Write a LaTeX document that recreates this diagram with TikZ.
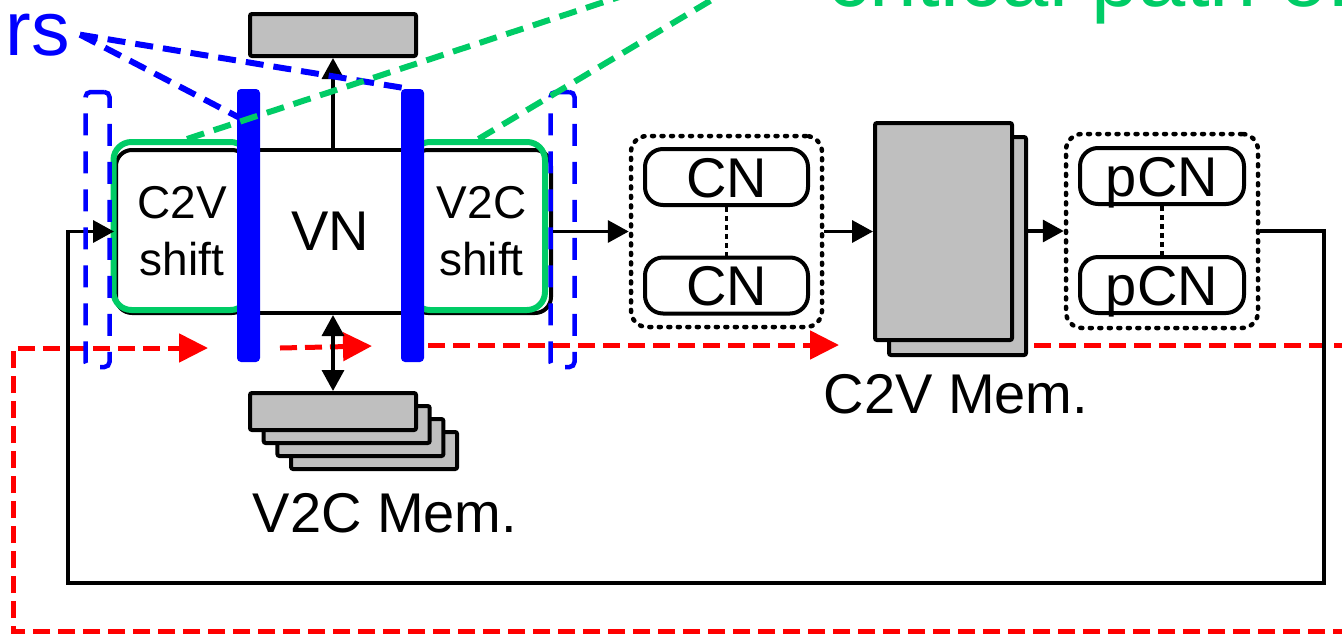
\documentclass[tikz,border=0pt]{standalone}
\usepackage{fontspec}
\setmainfont{Liberation Sans}
\usetikzlibrary{arrows.meta,positioning,calc}
\definecolor{regblue}{HTML}{0000FF}
\definecolor{critgreen}{HTML}{00CC66}
\definecolor{flowred}{HTML}{FF0000}
\definecolor{memgray}{HTML}{BFBFBF}

\begin{document}
\begin{tikzpicture}[x=1pt, y=-1pt, >={Triangle[length=21pt,width=22pt]},
    font=\fontsize{56}{60}\selectfont,
    unit/.style={draw, line width=4pt, fill=white, inner sep=0pt},
    shiftbox/.style={unit, rounded corners=16pt, minimum height=163pt, align=center, font=\fontsize{46}{57}\selectfont},
    pill/.style={unit, rounded corners=18pt, minimum width=163pt, minimum height=56pt, text height=40pt, text depth=0pt},
    grp/.style={draw, line width=4.5pt, dash pattern=on 2pt off 7.5pt, line cap=round, rounded corners=16pt, minimum width=191pt, minimum height=191pt, inner sep=0pt},
    mem/.style={draw, line width=4pt, fill=memgray, rounded corners=2pt, inner sep=0pt},
    bar/.style={fill=regblue, rounded corners=4pt, minimum width=23pt, minimum height=273pt, inner sep=0pt},
    reg/.style={draw=regblue, line width=4.5pt, dash pattern=on 22pt off 16pt, rounded corners=5pt, minimum width=24pt, minimum height=275pt, inner sep=0pt},
    crit/.style={draw=critgreen, line width=6pt, rounded corners=18pt, minimum height=168pt, inner sep=0pt},
    flow/.style={flowred, line width=5pt, dash pattern=on 17pt off 8pt},
    redtip/.style={-{Triangle[length=29pt,width=28pt]}},
    callout/.style={line width=6pt, dash pattern=on 18pt off 10pt},
    wire/.style={line width=3.5pt},
  ]
  \useasboundingbox (0,0) rectangle (1342,633);
  \clip (0,0) rectangle (1342,633);

  % variable node unit with shifters
  \node[unit, minimum width=164pt, minimum height=163pt] (vn) at (330.5,231.5) {VN};
  \node[shiftbox, minimum width=132pt] (c2vshift) at (182,231.5) {C2V\\shift};
  \node[shiftbox, minimum width=139pt] (v2cshift) at (481.5,231.5) {V2C\\shift};
  \node[crit, minimum width=135pt] (critL) at (181,226) {};
  \node[crit, minimum width=133pt] (critR) at (478.5,226) {};

  % check node groups
  \node[grp] (cngrp) at (726.5,231.5) {};
  \node[pill] (cn1) at (726.5,177) {CN};
  \node[pill] (cn2) at (726.5,285.5) {CN};
  \node[grp, minimum width=192pt, minimum height=194pt] (pcngrp) at (1162,231) {};
  \node[pill, minimum width=164pt] (pcn1) at (1162,176) {pCN};
  \node[pill, minimum width=164pt] (pcn2) at (1162,285) {pCN};
  \draw[wire, dash pattern=on 5pt off 4pt] (cn1) -- (cn2);
  \draw[wire, dash pattern=on 5pt off 4pt] (pcn1) -- (pcn2);

  % memories
  \node[mem, minimum width=137pt, minimum height=218pt] (c2vback) at (957.5,246) {};
  \node[mem, minimum width=137pt, minimum height=217pt] (c2vfront) at (943.5,231.5) {};
  \node[anchor=base] (c2vlabel) at (956,413) {C2V Mem.};
  \foreach \k in {3,2,1,0}
    \node[mem, minimum width=166pt, minimum height=37pt] (v2c\k) at (333+13.7*\k, 411.5+13*\k) {};
  \node[anchor=base] (v2clabel) at (385,532) {V2C Mem.};
  \node[mem, minimum width=166pt, minimum height=42pt] (outbuf) at (333,35) {};

  % red flow
  \coordinate (loopR) at (1350,631);
  \coordinate (loopL) at (13,631);
  \coordinate (f1) at (208,348);
  \coordinate (f2s) at (280,348);
  \coordinate (f2e) at (372,346);
  \coordinate (f3s) at (428,345);
  \coordinate (f3e) at (839,345);
  \coordinate (f4s) at (1034,345);
  \coordinate (f4e) at (1350,345);
  \draw[flow, redtip] (loopR) -- (loopL) |- (f1);
  \draw[flow, redtip] (f2s) -- (f2e);
  \draw[flow, redtip] (f3s) -- (f3e);
  \draw[flow] (f4s) -- (f4e);

  % datapath wires
  \coordinate (frBR) at (1324,583);
  \coordinate (frBL) at (68,583);
  \draw[wire, ->] (pcngrp.east) -| (frBR) -- (frBL) |- (c2vshift.west);
  \draw[wire, ->] (v2cshift.east) -- (cngrp.west);
  \draw[wire, ->] (cngrp.east) -- (c2vfront.west);
  \draw[wire, ->] (c2vback.east |- pcngrp.west) -- (pcngrp.west);
  \draw[wire, ->] (vn.north -| outbuf.south) -- (outbuf.south);
  \draw[wire, <->] (vn.south -| v2c0.north) -- (v2c0.north);

  % pipeline registers
  \node[reg] (regL) at (97.5,229.5) {};
  \node[reg] (regR) at (562.5,229.5) {};
  \node[regblue, anchor=base east, inner sep=0pt, font=\fontsize{77}{80}\selectfont] (reglabel) at (70,55) {rs};
  \coordinate (tap1) at (240,118);
  \coordinate (tap2) at (410,89);
  \draw[callout, regblue] ($(reglabel.east)+(10,0)$) -- (tap1);
  \draw[callout, regblue] ($(reglabel.east)+(10,0)$) -- (tap2);
  \node[bar] (bar1) at (248.5,225.5) {};
  \node[bar] (bar2) at (412.5,225.5) {};

  % critical path
  \coordinate (critend1) at (671,-20);
  \coordinate (critend2) at (745,-20);
  \draw[callout, critgreen] ($(critL.north)+(6,0)$) -- (critend1);
  \draw[callout, critgreen] (critR.north) -- (critend2);
  \node[critgreen, anchor=base west, inner sep=0pt, font=\fontsize{85}{90}\selectfont] (critlabel) at (827,6) {critical path of};
\end{tikzpicture}
\end{document}
